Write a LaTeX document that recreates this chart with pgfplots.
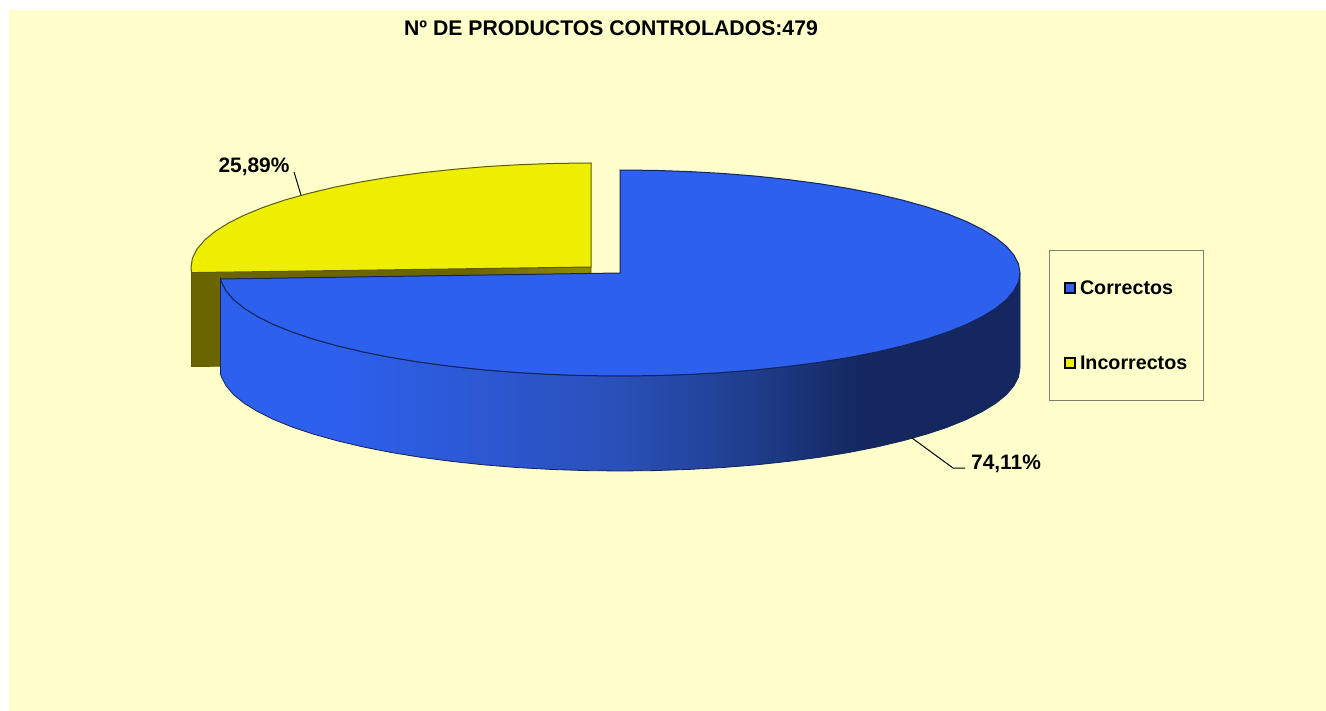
\documentclass[border=0pt]{standalone}
\usepackage{pgfplots}
\pgfplotsset{compat=1.18}
\usepackage{fontspec}
\setmainfont{Liberation Sans}
\definecolor{bgy}{HTML}{FFFFCC}
\definecolor{bluetop}{HTML}{2E60EE}
\definecolor{blueedge}{HTML}{14235A}
\definecolor{walla}{HTML}{2A50B8}
\definecolor{wallb}{HTML}{1F3E8E}
\definecolor{wallc}{HTML}{14285F}
\definecolor{yellowtop}{HTML}{EEEE00}
\definecolor{yellowedge}{HTML}{5E5A00}
\definecolor{olive}{HTML}{6B6500}
\definecolor{legbox}{HTML}{808070}
\pgfdeclarehorizontalshading{bluewall}{100bp}{
  color(0bp)=(bluetop);
  color(32bp)=(bluetop);
  color(50bp)=(walla);
  color(58bp)=(wallb);
  color(65bp)=(wallc);
  color(100bp)=(wallc)}
\pgfdeclarehorizontalshading{olivewall}{100bp}{
  color(0bp)=(olive);
  color(60bp)=(olive);
  color(75bp)=(olive!70!yellowtop);
  color(100bp)=(olive!70!yellowtop)}
\begin{document}
\begin{tikzpicture}
\begin{axis}[
  scale only axis, width=1326pt, height=711pt,
  xmin=0, xmax=1326, ymin=0, ymax=711, y dir=reverse,
  hide axis, clip=false, no marks,
  legend cell align=left,
  legend style={at={(axis cs:1049,250)}, anchor=north west, draw=legbox, line width=1pt, fill=none,
    font=\fontsize{19.7}{22}\selectfont\bfseries, inner xsep=14.5pt, inner ysep=28pt, row sep=56pt,
    /tikz/every odd column/.style={column sep=2pt}},
]
\addlegendimage{area legend, legend image code/.code={\draw[fill=bluetop,draw=black,line width=2pt] (0pt,-5pt) rectangle (10pt,5pt);}}
\addlegendentry{Correctos}
\addlegendimage{area legend, legend image code/.code={\draw[fill=yellowtop,draw=black,line width=2pt] (0pt,-5pt) rectangle (10pt,5pt);}}
\addlegendentry{Incorrectos}
% canvas
\addplot[forget plot, fill=white, draw=none] coordinates {(0,0) (1326,0) (1326,711) (0,711)} --cycle;
\addplot[forget plot, fill=bgy, draw=none] coordinates {(9,10) (1326,10) (1326,711) (9,711)} --cycle;
% Incorrectos 25.89 % : cut wall
\addplot[forget plot, shading=olivewall, draw=yellowedge, line width=0.8pt] coordinates {(191.5,272.6) (591,267) (591,361) (191.5,366.6)} --cycle;
% Incorrectos: top
\addplot[forget plot, fill=yellowtop, draw=yellowedge, line width=1pt] coordinates {
(191.5,272.6) (191,267) (192.5,257.9) (197.1,248.9) (204.6,240.1) (215.1,231.4) (228.5,223) (244.6,215) (263.3,207.3) (284.6,200.1) (308.2,193.5) (333.9,187.3) (361.6,181.8) (391,176.9) (422,172.7) (454.2,169.3) (487.5,166.5) (521.5,164.6) (556.1,163.4) (591,163) (591,267)} --cycle;
% Correctos 74.11 % : rim
\addplot[forget plot, shading=bluewall, draw=blueedge, line width=0.8pt] coordinates {
(1020,273) (1018.5,282) (1013.9,290.9) (1006.4,299.7) (995.9,308.2) (982.5,316.5) (966.4,324.5) (947.7,332.1) (926.4,339.2) (902.8,345.8) (877.1,351.9) (849.4,357.4) (820,362.2) (789,366.3) (756.8,369.8) (723.5,372.5) (689.5,374.4) (654.9,375.6) (620,376)
(585.1,375.6) (550.5,374.4) (516.5,372.5) (483.2,369.8) (451,366.3) (420,362.2) (390.6,357.4) (362.9,351.9) (337.2,345.8) (313.6,339.2) (292.3,332.1) (273.6,324.5) (257.5,316.5) (244.1,308.2) (233.6,299.7) (226.1,290.9) (221.5,282) (220.5,279)
(220.5,374) (221.5,377) (226.1,385.9) (233.6,394.7) (244.1,403.2) (257.5,411.5) (273.6,419.5) (292.3,427.1) (313.6,434.2) (337.2,440.8) (362.9,446.9) (390.6,452.4) (420,457.2) (451,461.3) (483.2,464.8) (516.5,467.5) (550.5,469.4) (585.1,470.6) (620,471) (654.9,470.6) (689.5,469.4) (723.5,467.5) (756.8,464.8) (789,461.3) (820,457.2) (849.4,452.4) (877.1,446.9) (902.8,440.8) (926.4,434.2) (947.7,427.1) (966.4,419.5) (982.5,411.5) (995.9,403.2) (1006.4,394.7) (1013.9,385.9) (1018.5,377) (1020,368)} --cycle;
% Correctos: top
\addplot[forget plot, fill=bluetop, draw=blueedge, line width=1pt] coordinates {
(620,170) (654.9,170.4) (689.5,171.6) (723.5,173.5) (756.8,176.2) (789,179.7) (820,183.8) (849.4,188.6) (877.1,194.1) (902.8,200.2) (926.4,206.8) (947.7,213.9) (966.4,221.5) (982.5,229.5) (995.9,237.8) (1006.4,246.3) (1013.9,255.1) (1018.5,264) (1020,273)
(1018.5,282) (1013.9,290.9) (1006.4,299.7) (995.9,308.2) (982.5,316.5) (966.4,324.5) (947.7,332.1) (926.4,339.2) (902.8,345.8) (877.1,351.9) (849.4,357.4) (820,362.2) (789,366.3) (756.8,369.8) (723.5,372.5) (689.5,374.4) (654.9,375.6) (620,376)
(585.1,375.6) (550.5,374.4) (516.5,372.5) (483.2,369.8) (451,366.3) (420,362.2) (390.6,357.4) (362.9,351.9) (337.2,345.8) (313.6,339.2) (292.3,332.1) (273.6,324.5) (257.5,316.5) (244.1,308.2) (233.6,299.7) (226.1,290.9) (221.5,282) (220.5,279) (620,273)} --cycle;
% leader lines
\addplot[forget plot, black, line width=1pt] coordinates {(301,195) (294,172)};
\addplot[forget plot, black, line width=1pt] coordinates {(912,438) (953,468) (965,468)};
% texts
\node[font=\fontsize{21.2}{24}\selectfont\bfseries, inner sep=0pt] at (axis cs:611,28) {Nº DE PRODUCTOS CONTROLADOS:479};
\node[font=\fontsize{20.9}{24}\selectfont\bfseries, inner sep=0pt] at (axis cs:254,166.5) {25,89\%};
\node[font=\fontsize{20.9}{24}\selectfont\bfseries, inner sep=0pt] at (axis cs:1006,463.5) {74,11\%};
\end{axis}
\end{tikzpicture}
\end{document}
